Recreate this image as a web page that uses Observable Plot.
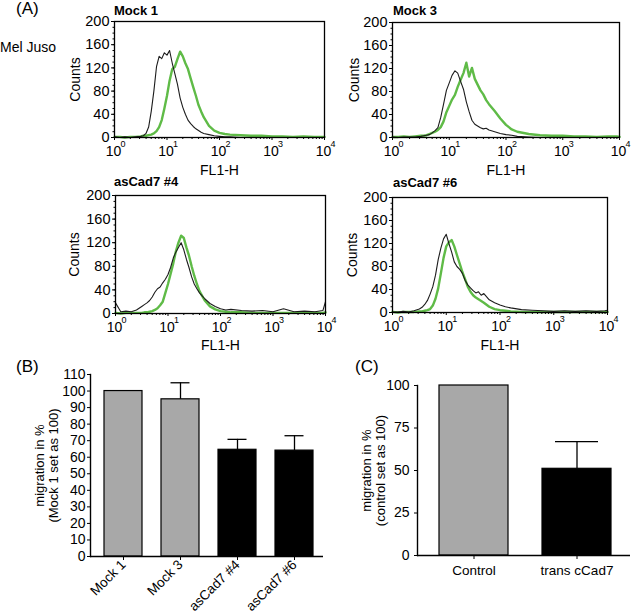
<!DOCTYPE html>
<html>
<head>
<meta charset="utf-8">
<script src="https://cdn.jsdelivr.net/npm/d3@7"></script>
<script src="https://cdn.jsdelivr.net/npm/@observablehq/plot@0.6"></script>
<style>
  body { margin: 0; background: #fff; }
  #fig { position: relative; width: 631px; height: 616px; overflow: hidden;
         font-family: "Liberation Sans", Arial, Helvetica, sans-serif; color: #000; }
  .lbl { position: absolute; white-space: nowrap; line-height: 1; }
</style>
</head>
<body>
<div id="fig"></div>
<script>
// ---------- DATA ----------
// FL1-H bin positions (log-spaced), shared by all four histograms
const fl1Bins = [1, 1.26, 1.58, 2.0, 2.51, 3.16, 3.55, 3.98, 4.47, 5.01,
  5.62, 6.31, 7.08, 7.94, 8.91, 10, 11.2, 12.6, 14.1, 15.8,
  17.8, 20.0, 22.4, 25.1, 28.2, 31.6, 35.5, 39.8, 44.7, 50.1,
  63.1, 79.4, 100, 126, 158, 251, 398, 631, 1000, 1585,
  2512, 3981, 6310, 8913, 10000];

// black = control staining, green = Cad7 staining (counts per bin)
const mock1Black = [1,0,1,0,1, 2,3,7,18,45, 80,122,140,136,146, 142,150,128,110,92, 68,52,40,30,24, 19,15,12,9,7, 5,3,2,1,1, 0,0,0,0,0, 0,0,0,0,0];
const mock1Green = [1,1,0,1,1, 2,3,3,4,5, 7,11,18,30,50, 72,98,118,122,135, 148,140,128,118,102, 87,72,56,45,35, 20,12,8,6,5, 4,3,3,2,2, 1,2,1,1,1];
const mock3Black = [1,0,1,1,1, 2,3,4,5,8, 12,17,35,58,82, 95,108,116,112,98, 84,62,45,30,23, 20,17,15,16,13, 10,7,5,4,2, 1,0,0,0,0, 0,0,0,0,0];
const mock3Green = [1,1,2,1,2, 3,3,4,6,8, 10,13,18,28,44, 55,66,74,88,100, 112,130,106,121,102, 92,82,75,65,58, 46,33,22,14,10, 6,4,3,3,2, 2,1,2,2,1];
const as4Black = [18,3,4,3,6, 12,15,18,22,28, 36,42,45,52,58, 66,78,94,104,112, 120,108,92,78,62, 50,42,35,30,25, 17,12,8,6,7, 5,4,5,3,8, 3,4,3,5,20];
const as4Green = [1,0,1,1,1, 1,2,2,3,4, 6,9,14,20,35, 50,67,85,105,120, 132,128,112,98,80, 64,50,38,30,22, 12,7,4,3,2, 2,1,1,1,1, 1,1,1,1,2];
const as6Black = [1,1,2,1,3, 6,9,14,21,32, 45,65,92,112,128, 136,120,105,88,80, 75,68,56,48,43, 38,34,36,30,33, 22,17,13,10,8, 5,4,3,2,3, 2,3,2,3,4];
const as6Green = [1,0,1,1,1, 2,2,3,4,6, 12,24,42,68,95, 115,122,126,115,100, 85,70,58,45,36, 30,26,23,20,17, 10,6,4,3,2, 1,1,1,1,1, 1,1,1,1,1];

const histTitles = ["Mock 1", "Mock 3", "asCad7 #4", "asCad7 #6"];
const countTicks = [0, 40, 80, 120, 160, 200];
const fl1Ticks = [1, 10, 100, 1000, 10000];
const fl1TickBase = "10";
const fl1Exponents = ["0", "1", "2", "3", "4"];
const histXLabel = "FL1-H";
const histYLabel = "Counts";

// Panel B
const bCategories = ["Mock 1", "Mock 3", "asCad7 #4", "asCad7 #6"];
const bGroups = ["mock", "mock", "asCad7", "asCad7"];
const bMeans = [100, 95, 64.5, 64];
const bErrors = [0, 10, 6.3, 9];
const bTicks = [0, 10, 20, 30, 40, 50, 60, 70, 80, 90, 100, 110];
const bYLabel = "migration in %\n(Mock 1 set as 100)";

// Panel C
const cCategories = ["Control", "trans cCad7"];
const cGroups = ["mock", "asCad7"];
const cMeans = [100, 51];
const cErrors = [0, 16];
const cTicks = [0, 25, 50, 75, 100];
const cYLabel = "migration in %\n(control set as 100)";

// ---------- DRAWING ----------
const FONT = '"Liberation Sans", Arial, Helvetica, sans-serif';
const GREEN = "#5fbb47";
const GRAY = "#a8a8a8";
const fig = document.getElementById("fig");

function place(node, left, top) {
  node.style.position = "absolute";
  node.style.left = left + "px";
  node.style.top = top + "px";
  fig.appendChild(node);
}
function label(text, left, top, size, bold) {
  const d = document.createElement("div");
  d.className = "lbl";
  d.textContent = text;
  d.style.fontSize = size + "px";
  if (bold) d.style.fontWeight = "bold";
  d.style.left = left + "px";
  d.style.top = top + "px";
  fig.appendChild(d);
}

function histogram(black, green, g) {
  const rows = fl1Bins.map((v, i) => ({v, black: black[i], green: green[i]}));
  const minorX = d3.scaleLog().domain([1, 1e4]).ticks().filter(t => !fl1Ticks.includes(t));
  return Plot.plot({
    width: g.w, height: g.h,
    marginLeft: g.ml, marginRight: g.mr, marginTop: g.mt, marginBottom: g.mb,
    style: {fontFamily: FONT, fontSize: "14px", color: "#000", background: "transparent", overflow: "visible"},
    x: {type: "log", domain: [1, 1e4]},
    y: {domain: [0, 200]},
    marks: [
      Plot.line(rows, {x: "v", y: "green", stroke: GREEN, strokeWidth: 2.4}),
      Plot.line(rows, {x: "v", y: "black", stroke: "#1c1c1c", strokeWidth: 1.1}),
      Plot.frame({stroke: "#000", strokeWidth: 1.3}),
      Plot.axisX(fl1Ticks, {tickSize: 3, tickFormat: () => "", label: null}),
      Plot.axisX(minorX, {tickSize: 2, tickFormat: () => "", label: null}),
      Plot.text(fl1Ticks, {x: d => d, frameAnchor: "bottom", text: () => fl1TickBase, lineAnchor: "top", dx: -1, dy: 9, fontSize: 14}),
      Plot.text(fl1Ticks, {x: d => d, frameAnchor: "bottom", text: (d, i) => fl1Exponents[i], lineAnchor: "top", textAnchor: "start", dx: 6, dy: 3, fontSize: 9}),
      Plot.axisY(countTicks, {tickSize: 3, tickPadding: 2, label: null, fontSize: 14.5}),
      Plot.axisY(d3.range(0, 201, 10), {tickSize: 1.5, tickFormat: () => "", label: null}),
      Plot.text([histXLabel], {frameAnchor: "bottom", text: d => d, textAnchor: "middle", lineAnchor: "middle", dy: g.lx, fontSize: 14}),
      Plot.text([histYLabel], {frameAnchor: "left", text: d => d, textAnchor: "middle", lineAnchor: "middle", rotate: -90, dx: g.ly, fontSize: 14})
    ]
  });
}

function barPanel(cats, groups, means, errs, ticks, ylab, g) {
  const rows = cats.map((c, i) => ({cat: c, group: groups[i], mean: means[i], err: errs[i]}));
  const withErr = rows.filter(d => d.err > 0);
  return Plot.plot({
    width: g.w, height: g.h,
    marginLeft: g.ml, marginRight: g.mr, marginTop: g.mt, marginBottom: g.mb,
    style: {fontFamily: FONT, fontSize: "14px", color: "#000", background: "transparent", overflow: "visible"},
    x: {domain: cats, paddingInner: g.pi, paddingOuter: g.po, align: g.align},
    y: {domain: [0, ticks[ticks.length - 1]]},
    color: {domain: ["mock", "asCad7"], range: [GRAY, "#000"]},
    marks: [
      Plot.ruleX(withErr, {x: "cat", y1: "mean", y2: d => d.mean + d.err, stroke: "#000", strokeWidth: 1.3}),
      Plot.tickY(withErr, {x: "cat", y: d => d.mean + d.err, stroke: "#000", strokeWidth: 1.3, insetLeft: g.cap, insetRight: g.cap}),
      Plot.barY(rows, {x: "cat", y: "mean", fill: "group", stroke: "#000", strokeWidth: 1.2}),
      Plot.axisY(ticks, {tickSize: 3, tickPadding: g.ytp, label: null, fontSize: 14}),
      g.rotate
        ? Plot.axisX({tickSize: 4, tickPadding: 2, tickRotate: -45, label: null, fontSize: 13.5})
        : Plot.axisX({tickSize: 4, tickPadding: 6, label: null, fontSize: 13.5}),
      Plot.frame({anchor: "left", stroke: "#000", strokeWidth: 1.4}),
      Plot.ruleY([0], {stroke: "#000", strokeWidth: 1.4}),
      Plot.text([ylab], {frameAnchor: "left", text: d => d, textAnchor: "middle", lineAnchor: "middle", rotate: -90, dx: g.ylx, lineHeight: 1.1, fontSize: 13})
    ]
  });
}

// Panel A
label("(A)", 16, 0, 17, false);
label("Mel Juso", 0, 40, 14, false);

place(histogram(mock1Black, mock1Green, {w: 330, h: 180, ml: 114, mr: 6, mt: 21, mb: 43, lx: 33, ly: -39}), 0, 0);
place(histogram(mock3Black, mock3Green, {w: 311, h: 180, ml: 72, mr: 12, mt: 22, mb: 43, lx: 33, ly: -38}), 320, 0);
place(histogram(as4Black, as4Green, {w: 330, h: 190, ml: 115, mr: 5, mt: 25, mb: 47, lx: 32, ly: -41}), 0, 170);
place(histogram(as6Black, as6Green, {w: 311, h: 190, ml: 72, mr: 24, mt: 27, mb: 48, lx: 33, ly: -40}), 320, 170);

label(histTitles[0], 114, 3.5, 13, true);
label(histTitles[1], 393, 3.5, 13, true);
label(histTitles[2], 114, 175, 13, true);
label(histTitles[3], 393, 176, 13, true);

// Panel B
label("(B)", 16, 358, 17, false);
place(barPanel(bCategories, bGroups, bMeans, bErrors, bTicks, bYLabel,
  {w: 330, h: 266, ml: 90, mr: 7, mt: 24, mb: 60, pi: 0.34, po: 0.19, align: 0.585, cap: 9.5, ytp: 2, rotate: true, ylx: -44}), 0, 350);

// Panel C
label("(C)", 355, 358, 17, false);
place(barPanel(cCategories, cGroups, cMeans, cErrors, cTicks, cYLabel,
  {w: 311, h: 266, ml: 97, mr: 1, mt: 35, mb: 61, pi: 0.33, po: 0.19, align: 0.53, cap: 13, ytp: 5, rotate: false, ylx: -44}), 320, 350);
</script>
</body>
</html>
